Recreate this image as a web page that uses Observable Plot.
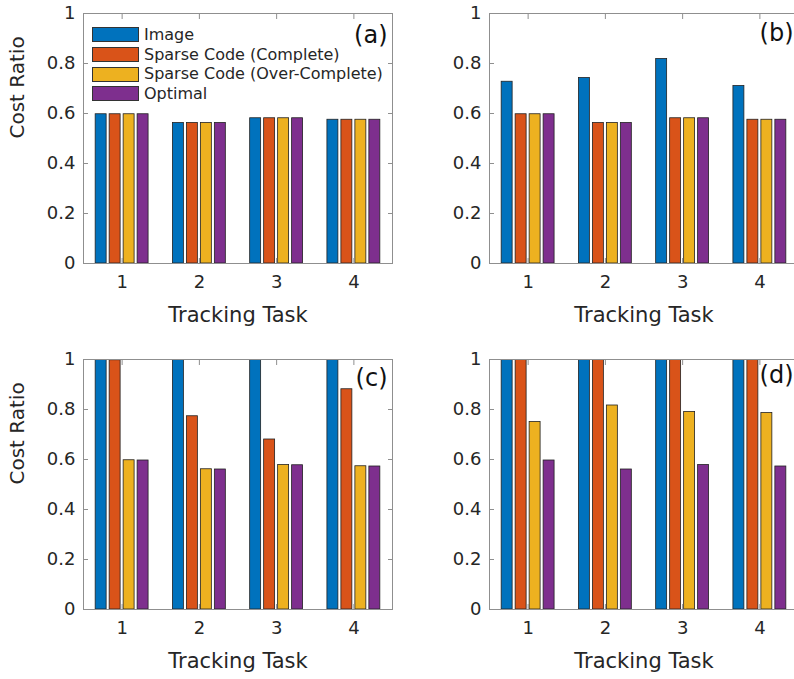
<!DOCTYPE html>
<html>
<head>
<meta charset="utf-8">
<script src="https://cdn.jsdelivr.net/npm/d3@7"></script>
<script src="https://cdn.jsdelivr.net/npm/@observablehq/plot@0.6"></script>
<style>
  html, body { margin: 0; padding: 0; background: white; overflow: hidden; }
  #root { position: relative; width: 794px; height: 679px; overflow: hidden; background: white; font-family: "DejaVu Sans", sans-serif; }
  .panel { position: absolute; width: 400px; height: 340px; }
  .panel svg { max-width: none !important; }
  .legend { position: absolute; left: 92px; top: 25px; font-size: 16px; color: #262626; line-height: 19.7px; }
  .legend .row { display: flex; align-items: center; height: 19.7px; }
  .legend .sw { width: 45px; height: 13px; border: 1px solid #333; margin-right: 5px; box-sizing: content-box; }
</style>
</head>
<body>
<div id="root"></div>
<script>
// ---- data ----
const tasks = [1, 2, 3, 4];
const seriesNames = ["Image", "Sparse Code (Complete)", "Sparse Code (Over-Complete)", "Optimal"];
const seriesColors = ["#0072BD", "#D95319", "#EDB120", "#7E2F8E"];
const yTicks = [0, 0.2, 0.4, 0.6, 0.8, 1];

// panel (a)
const aImage    = [0.597, 0.562, 0.581, 0.575];
const aComplete = [0.597, 0.562, 0.581, 0.575];
const aOver     = [0.597, 0.562, 0.581, 0.575];
const aOptimal  = [0.597, 0.562, 0.581, 0.575];
// panel (b)
const bImage    = [0.727, 0.742, 0.818, 0.710];
const bComplete = [0.597, 0.562, 0.581, 0.575];
const bOver     = [0.597, 0.562, 0.581, 0.575];
const bOptimal  = [0.597, 0.562, 0.581, 0.575];
// panel (c)
const cImage    = [1, 1, 1, 1];
const cComplete = [0.997, 0.773, 0.680, 0.881];
const cOver     = [0.597, 0.561, 0.578, 0.573];
const cOptimal  = [0.596, 0.560, 0.577, 0.572];
// panel (d)
const dImage    = [1, 1, 1, 1];
const dComplete = [1, 1, 1, 1];
const dOver     = [0.750, 0.816, 0.790, 0.786];
const dOptimal  = [0.596, 0.560, 0.578, 0.572];

const xLabel = "Tracking Task";
const yLabel = "Cost Ratio";

// ---- drawing ----
const STEP = 0.181, HALF = 0.071;
const axisGray = "#8f8f8f";
const textColor = "#262626";
const tickFmt = d => String(+d.toFixed(1));

function makePanel(values, tag, tagDy, showYLabel) {
  const rows = tasks.flatMap((t, i) => seriesNames.map((s, j) => ({task: t, j, series: s, value: values[j][i]})));
  const marks = [
    Plot.rectY(rows, {
      x1: d => d.task + (d.j - 1.5) * STEP - HALF,
      x2: d => d.task + (d.j - 1.5) * STEP + HALF,
      y: "value",
      fill: "series",
      stroke: "#222",
      strokeWidth: 0.8,
      clip: true
    }),
    Plot.frame({stroke: axisGray, strokeWidth: 1}),
    Plot.axisY({anchor: "left", label: null, ticks: yTicks, tickSize: -5, tickPadding: 13, tickFormat: tickFmt, stroke: axisGray, fill: textColor, fontSize: 18}),
    Plot.axisY({anchor: "right", label: null, ticks: yTicks, tickSize: -5, tickFormat: () => "", stroke: axisGray}),
    Plot.axisX({anchor: "bottom", label: null, ticks: tasks, tickSize: -5, tickPadding: 17, tickFormat: d => String(d), stroke: axisGray, fill: textColor, fontSize: 18}),
    Plot.axisX({anchor: "top", label: null, ticks: tasks, tickSize: -5, tickFormat: () => "", stroke: axisGray}),
    Plot.text([xLabel], {text: d => d, frameAnchor: "bottom", lineAnchor: "middle", dy: 52, fontSize: 21, fill: textColor}),
    Plot.text([tag], {text: d => d, frameAnchor: "top-right", lineAnchor: "middle", dx: -5, dy: tagDy, textAnchor: "end", fontSize: 24, fill: "#111"})
  ];
  if (showYLabel) {
    marks.push(Plot.text([yLabel], {text: d => d, frameAnchor: "left", lineAnchor: "middle", dx: -66, rotate: -90, fontSize: 20, fill: textColor}));
  }
  return Plot.plot({
    width: 400,
    height: 340,
    marginLeft: 83,
    marginRight: 8,
    marginTop: 13,
    marginBottom: 77,
    style: {fontFamily: "DejaVu Sans", fontSize: "17px", color: textColor, background: "transparent", overflow: "visible", maxWidth: "none"},
    x: {domain: [0.5, 4.5], axis: null},
    y: {domain: [0, 1], axis: null},
    color: {domain: seriesNames, range: seriesColors},
    marks
  });
}

const root = document.getElementById("root");
const specs = [
  {vals: [aImage, aComplete, aOver, aOptimal], tag: "(a)", dy: 22, yl: true, left: 0, top: 0},
  {vals: [bImage, bComplete, bOver, bOptimal], tag: "(b)", dy: 20, yl: false, left: 406, top: 0},
  {vals: [cImage, cComplete, cOver, cOptimal], tag: "(c)", dy: 19, yl: true, left: 0, top: 346},
  {vals: [dImage, dComplete, dOver, dOptimal], tag: "(d)", dy: 16, yl: false, left: 406, top: 346}
];
for (const s of specs) {
  const wrap = document.createElement("div");
  wrap.className = "panel";
  wrap.style.left = s.left + "px";
  wrap.style.top = s.top + "px";
  wrap.appendChild(makePanel(s.vals, s.tag, s.dy, s.yl));
  root.appendChild(wrap);
}

// legend (panel a)
const legend = document.createElement("div");
legend.className = "legend";
seriesNames.forEach((name, i) => {
  const row = document.createElement("div");
  row.className = "row";
  const sw = document.createElement("div");
  sw.className = "sw";
  sw.style.background = seriesColors[i];
  const lab = document.createElement("span");
  lab.textContent = name;
  row.appendChild(sw);
  row.appendChild(lab);
  legend.appendChild(row);
});
root.appendChild(legend);
</script>
</body>
</html>
